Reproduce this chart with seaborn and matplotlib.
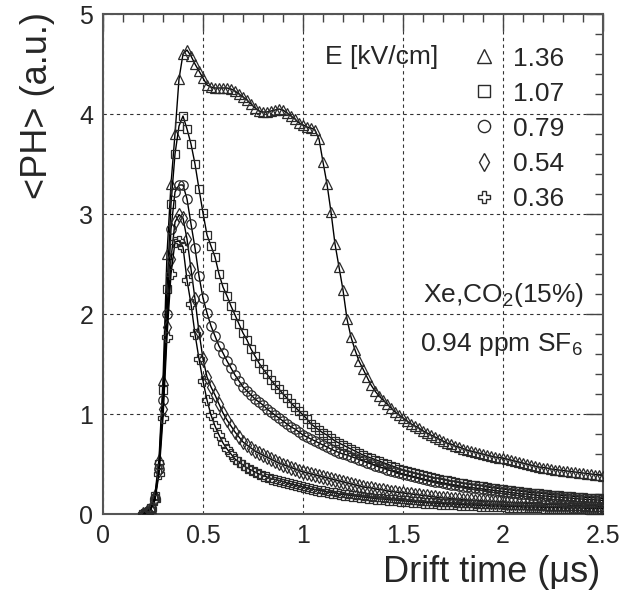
import numpy as np
import pandas as pd
import matplotlib
matplotlib.use("Agg")
import matplotlib.pyplot as plt
from matplotlib.lines import Line2D
from matplotlib.ticker import MultipleLocator
import seaborn as sns

# ---------------- data ----------------
drift_time = [
    0.20, 0.22, 0.24, 0.26, 0.28, 0.30, 0.32, 0.34, 0.36, 0.38,
    0.40, 0.42, 0.44, 0.46, 0.48, 0.50, 0.52, 0.54, 0.56, 0.58,
    0.60, 0.62, 0.64, 0.66, 0.68, 0.70, 0.72, 0.74, 0.76, 0.78,
    0.80, 0.82, 0.84, 0.86, 0.88, 0.90, 0.92, 0.94, 0.96, 0.98,
    1.00, 1.02, 1.04, 1.06, 1.08, 1.10, 1.12, 1.14, 1.16, 1.18,
    1.20, 1.22, 1.24, 1.26, 1.28, 1.30, 1.32, 1.34, 1.36, 1.38,
    1.40, 1.42, 1.44, 1.46, 1.48, 1.50, 1.52, 1.54, 1.56, 1.58,
    1.60, 1.62, 1.64, 1.66, 1.68, 1.70, 1.72, 1.74, 1.76, 1.78,
    1.80, 1.82, 1.84, 1.86, 1.88, 1.90, 1.92, 1.94, 1.96, 1.98,
    2.00, 2.02, 2.04, 2.06, 2.08, 2.10, 2.12, 2.14, 2.16, 2.18,
    2.20, 2.22, 2.24, 2.26, 2.28, 2.30, 2.32, 2.34, 2.36, 2.38,
    2.40, 2.42, 2.44, 2.46, 2.48, 2.50,
]

ph_136 = [
    0.00, 0.02, 0.06, 0.20, 0.55, 1.34, 2.60, 3.30, 3.80, 4.35,
    4.60, 4.64, 4.58, 4.50, 4.43, 4.36, 4.29, 4.27, 4.26, 4.26,
    4.26, 4.26, 4.25, 4.23, 4.20, 4.17, 4.14, 4.10, 4.06, 4.03,
    4.02, 4.02, 4.03, 4.04, 4.05, 4.04, 4.01, 3.98, 3.95, 3.91,
    3.89, 3.87, 3.86, 3.84, 3.75, 3.52, 3.30, 3.02, 2.70, 2.47,
    2.24, 1.95, 1.77, 1.64, 1.53, 1.45, 1.37, 1.29, 1.23, 1.18,
    1.14, 1.10, 1.06, 1.02, 0.99, 0.96, 0.93, 0.90, 0.88, 0.86,
    0.83, 0.81, 0.79, 0.77, 0.75, 0.73, 0.71, 0.70, 0.68, 0.67,
    0.655, 0.64, 0.63, 0.62, 0.61, 0.60, 0.59, 0.58, 0.57, 0.565,
    0.56, 0.55, 0.54, 0.53, 0.52, 0.51, 0.50, 0.49, 0.48, 0.47,
    0.465, 0.46, 0.45, 0.445, 0.44, 0.435, 0.43, 0.425, 0.42, 0.415,
    0.41, 0.405, 0.40, 0.395, 0.39, 0.385,
]

ph_107 = [
    0.00, 0.02, 0.06, 0.18, 0.50, 1.24, 2.25, 3.10, 3.60, 3.88,
    3.98, 3.85, 3.70, 3.50, 3.25, 3.01, 2.79, 2.68, 2.57, 2.40,
    2.27, 2.18, 2.08, 1.99, 1.90, 1.81, 1.74, 1.65, 1.58, 1.51,
    1.45, 1.40, 1.34, 1.29, 1.25, 1.20, 1.16, 1.11, 1.07, 1.03,
    0.99, 0.95, 0.90, 0.87, 0.84, 0.81, 0.79, 0.76, 0.73, 0.71,
    0.69, 0.67, 0.65, 0.63, 0.61, 0.59, 0.575, 0.56, 0.545, 0.53,
    0.515, 0.50, 0.485, 0.47, 0.455, 0.44, 0.43, 0.42, 0.41, 0.40,
    0.39, 0.38, 0.37, 0.36, 0.355, 0.345, 0.34, 0.33, 0.325, 0.315,
    0.31, 0.30, 0.295, 0.29, 0.285, 0.28, 0.27, 0.265, 0.26, 0.255,
    0.25, 0.245, 0.24, 0.235, 0.23, 0.225, 0.22, 0.215, 0.21, 0.21,
    0.205, 0.20, 0.195, 0.19, 0.19, 0.185, 0.18, 0.18, 0.175, 0.17,
    0.17, 0.165, 0.165, 0.16, 0.16, 0.155,
]

ph_079 = [
    0.00, 0.02, 0.06, 0.16, 0.45, 1.14, 2.00, 2.85, 3.22, 3.29,
    3.29, 3.15, 2.90, 2.66, 2.38, 2.16, 2.01, 1.88, 1.78, 1.68,
    1.61, 1.53, 1.46, 1.39, 1.33, 1.27, 1.23, 1.19, 1.15, 1.12,
    1.09, 1.05, 1.02, 0.99, 0.96, 0.93, 0.90, 0.87, 0.85, 0.82,
    0.79, 0.77, 0.75, 0.73, 0.71, 0.69, 0.67, 0.65, 0.63, 0.615,
    0.60, 0.59, 0.575, 0.56, 0.545, 0.53, 0.515, 0.50, 0.485, 0.47,
    0.46, 0.445, 0.435, 0.42, 0.41, 0.40, 0.39, 0.38, 0.37, 0.36,
    0.35, 0.34, 0.335, 0.325, 0.32, 0.31, 0.305, 0.295, 0.29, 0.285,
    0.275, 0.27, 0.265, 0.26, 0.255, 0.25, 0.245, 0.24, 0.235, 0.23,
    0.225, 0.22, 0.215, 0.21, 0.205, 0.20, 0.20, 0.195, 0.19, 0.185,
    0.18, 0.18, 0.175, 0.17, 0.17, 0.165, 0.16, 0.16, 0.155, 0.15,
    0.15, 0.145, 0.145, 0.14, 0.14, 0.135,
]

ph_054 = [
    0.00, 0.02, 0.05, 0.15, 0.44, 1.05, 1.87, 2.55, 2.92, 2.99,
    2.96, 2.75, 2.45, 2.15, 1.82, 1.55, 1.37, 1.27, 1.19, 1.10,
    1.01, 0.94, 0.88, 0.82, 0.77, 0.72, 0.69, 0.66, 0.63, 0.61,
    0.59, 0.57, 0.55, 0.53, 0.51, 0.495, 0.48, 0.465, 0.45, 0.435,
    0.42, 0.41, 0.40, 0.39, 0.38, 0.37, 0.36, 0.35, 0.34, 0.33,
    0.32, 0.31, 0.30, 0.29, 0.28, 0.27, 0.265, 0.26, 0.25, 0.245,
    0.24, 0.23, 0.225, 0.22, 0.215, 0.21, 0.205, 0.20, 0.195, 0.19,
    0.185, 0.18, 0.175, 0.17, 0.165, 0.16, 0.16, 0.155, 0.15, 0.15,
    0.145, 0.14, 0.14, 0.135, 0.135, 0.13, 0.13, 0.125, 0.125, 0.12,
    0.12, 0.115, 0.115, 0.11, 0.11, 0.11, 0.105, 0.105, 0.10, 0.10,
    0.10, 0.095, 0.095, 0.095, 0.09, 0.09, 0.09, 0.085, 0.085, 0.085,
    0.08, 0.08, 0.08, 0.08, 0.075, 0.075,
]

ph_036 = [
    0.00, 0.02, 0.05, 0.14, 0.40, 0.96, 1.77, 2.40, 2.72, 2.73,
    2.67, 2.34, 2.10, 1.80, 1.55, 1.33, 1.14, 0.99, 0.88, 0.79,
    0.71, 0.65, 0.60, 0.55, 0.52, 0.49, 0.46, 0.44, 0.42, 0.40,
    0.385, 0.37, 0.355, 0.345, 0.335, 0.325, 0.31, 0.30, 0.29, 0.28,
    0.27, 0.26, 0.25, 0.245, 0.235, 0.23, 0.22, 0.215, 0.21, 0.20,
    0.195, 0.19, 0.185, 0.18, 0.175, 0.17, 0.165, 0.16, 0.155, 0.15,
    0.15, 0.145, 0.14, 0.14, 0.135, 0.13, 0.13, 0.125, 0.12, 0.12,
    0.115, 0.115, 0.11, 0.11, 0.105, 0.105, 0.10, 0.10, 0.10, 0.095,
    0.095, 0.09, 0.09, 0.09, 0.085, 0.085, 0.085, 0.08, 0.08, 0.08,
    0.08, 0.075, 0.075, 0.075, 0.075, 0.07, 0.07, 0.07, 0.07, 0.07,
    0.065, 0.065, 0.065, 0.065, 0.065, 0.06, 0.06, 0.06, 0.06, 0.06,
    0.06, 0.055, 0.055, 0.055, 0.055, 0.055,
]

field_labels = ["1.36", "1.07", "0.79", "0.54", "0.36"]
series = [ph_136, ph_107, ph_079, ph_054, ph_036]

x_ticks = [0, 0.5, 1, 1.5, 2, 2.5]
x_tick_labels = ["0", "0.5", "1", "1.5", "2", "2.5"]
y_ticks = [0, 1, 2, 3, 4, 5]
y_tick_labels = ["0", "1", "2", "3", "4", "5"]

for s in series:
    assert len(s) == len(drift_time)

df = pd.concat(
    [pd.DataFrame({"t": drift_time, "ph": s, "E": lab}) for lab, s in zip(field_labels, series)],
    ignore_index=True,
)

# ---------------- style ----------------
sns.set_theme(style="white")
plt.rcParams["font.family"] = ["Liberation Sans", "DejaVu Sans"]
plt.rcParams["mathtext.fontset"] = "custom"
plt.rcParams["mathtext.rm"] = "Liberation Sans"
plt.rcParams["mathtext.it"] = "Liberation Sans:italic"
plt.rcParams["mathtext.bf"] = "Liberation Sans:bold"

marker_style = {
    "1.36": dict(marker="^", ms=7.5),
    "1.07": dict(marker="s", ms=6.3),
    "0.79": dict(marker="o", ms=6.8),
    "0.54": dict(marker="d", ms=6.8),
    "0.36": dict(marker="P", ms=7.3),
}

fig = plt.figure(figsize=(6.23, 5.91), dpi=100)
ax = fig.add_axes([103 / 623, 1 - 514 / 591, 500 / 623, 500 / 591])

for lab in field_labels:
    sub = df[df["E"] == lab]
    st = marker_style[lab]
    sns.lineplot(
        data=sub, x="t", y="ph", ax=ax, color="black", lw=1.0,
        marker=st["marker"], ms=st["ms"], markerfacecolor="none",
        markeredgecolor="#2a2a2a", markeredgewidth=0.9,
        estimator=None, sort=False, legend=False, zorder=3,
    )

ax.set_xlim(0, 2.5)
ax.set_ylim(0, 5)
ax.set_xticks(x_ticks)
ax.set_xticklabels(x_tick_labels)
ax.set_yticks(y_ticks)
ax.set_yticklabels(y_tick_labels)
ax.xaxis.set_minor_locator(MultipleLocator(0.1))
ax.yaxis.set_minor_locator(MultipleLocator(0.2))
ax.tick_params(which="both", direction="in", top=True, right=True,
               color="#444444", width=1.0)
ax.tick_params(which="major", length=12, labelsize=18, pad=7)
ax.tick_params(which="minor", length=6)
ax.tick_params(axis="x", which="major", pad=7)

ax.grid(True, which="major", color="#333333", lw=0.8, ls=(0, (3, 3)), zorder=1)
for sp in ax.spines.values():
    sp.set_color("#555555")
    sp.set_linewidth(1.5)

ax.set_xlabel("Drift time (μs)", fontsize=26, ha="right", va="center")
ax.xaxis.set_label_coords(0.995, -0.117)
ax.set_ylabel("<PH> (a.u.)", fontsize=26)
ax.yaxis.label.set_rotation_mode("default")
ax.yaxis.label.set_ha("center")
ax.yaxis.label.set_va("top")
ax.yaxis.set_label_coords(-0.13, 1.005)

# legend (ROOT style: header on the left, markers + values on the right)
handles = [
    Line2D([], [], ls="none", color="black", marker=marker_style[lab]["marker"],
           ms=marker_style[lab]["ms"] + 2.0, mfc="none", mec="#2a2a2a", mew=1.0)
    for lab in field_labels
]
ax.legend(handles, field_labels, loc="upper left", bbox_to_anchor=(0.736, 0.935),
          frameon=False, fontsize=19, handlelength=1.0, handletextpad=0.6,
          labelspacing=0.42, borderpad=0.0, borderaxespad=0.0)
ax.text(0.444, 0.914, "E [kV/cm]", transform=ax.transAxes, fontsize=19,
        ha="left", va="center")

ax.text(0.64, 0.438, r"Xe,CO$_2$(15%)", transform=ax.transAxes, fontsize=19,
        ha="left", va="center")
ax.text(0.634, 0.338, r"0.94 ppm SF$_6$", transform=ax.transAxes, fontsize=19,
        ha="left", va="center")

fig.savefig("out.png", dpi=100)
